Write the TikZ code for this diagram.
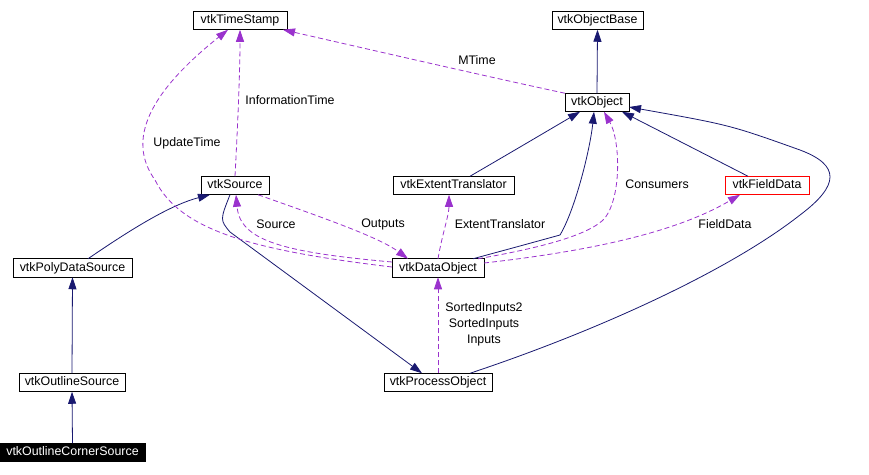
\documentclass[tikz,border=0pt]{standalone}
\usepackage{fontspec}
\setmainfont{Liberation Sans}
\usetikzlibrary{arrows.meta}
\definecolor{navy}{HTML}{191970}
\definecolor{orchid}{HTML}{9A32CD}
\begin{document}
\begin{tikzpicture}[x=1pt,y=-1pt, font=\fontsize{12.4}{14}\selectfont,
 cls/.style={draw, line width=0.8pt, inner sep=0pt, outer sep=0pt, minimum height=18.5pt, text height=9pt, text depth=2.5pt},
 inh/.style={navy, line width=0.8pt, -{Triangle[length=12pt,width=8pt]}},
 use/.style={orchid, line width=0.8pt, dash pattern=on 5pt off 3pt, -{Triangle[length=12pt,width=8pt]}},
 lbl/.style={inner sep=0pt, text=black}]
\useasboundingbox (0,0) rectangle (869,474);
% classes
\node[cls, minimum width=94pt]  (ts)   at (240,20.5)  {vtkTimeStamp};
\node[cls, minimum width=91pt]  (ob)   at (597.5,20.5) {vtkObjectBase};
\node[cls, minimum width=64pt]  (obj)  at (597,102.5) {vtkObject};
\node[cls, minimum width=68pt]  (src)  at (235,185.5) {vtkSource};
\node[cls, minimum width=121pt] (et)   at (453.5,185.5) {vtkExtentTranslator};
\node[cls, minimum width=84pt, draw=red] (fd) at (767,185.5) {vtkFieldData};
\node[cls, minimum width=119pt] (pds)  at (72.5,268) {vtkPolyDataSource};
\node[cls, minimum width=92pt]  (dobj) at (438,268) {vtkDataObject};
\node[cls, minimum width=106pt] (os)   at (72,382.5) {vtkOutlineSource};
\node[cls, minimum width=108pt] (po)   at (438,382.5) {vtkProcessObject};
\node[cls, minimum width=145pt, fill=black, text=white] (ocs) at (72.5,452.3) {vtkOutlineCornerSource};
% inheritance
\draw[inh] (obj.north) -- (ob.south);
\draw[inh] ([xshift=16.5pt]et.north) .. controls (515,150) .. ([xshift=-17pt]obj.south);
\draw[inh] ([xshift=-19pt]fd.north) -- ([xshift=25pt]obj.south);
\draw[inh] ([xshift=35pt]dobj.north) .. controls (520,246) .. (560,235)
   .. controls (575,210) and (590,150) .. ([xshift=-3pt]obj.south);
\draw[inh] ([xshift=32pt]po.north) .. controls (600,330) and (730,270) .. (800,215)
   .. controls (840,185) and (840,165) .. (800,150)
   .. controls (730,125) .. ([yshift=-4.5pt]obj.east);
\draw[inh] ([xshift=15.5pt]pds.north) .. controls (130,230) and (170,205) .. ([xshift=-25pt]src.south);
\draw[inh] ([xshift=-5pt]src.south) .. controls (220,220) .. (230,232) -- ([xshift=-16pt]po.north);
\draw[inh] (os.north) -- (pds.south);
\draw[inh] (ocs.north) -- (os.south);
% usage
\draw[use] ([xshift=40pt]dobj.north) .. controls (540,248) and (590,235) .. (605,218)
   .. controls (622,195) and (620,140) .. ([xshift=7pt]obj.south);
\draw[use] ([yshift=5pt]dobj.east) .. controls (600,250) and (680,230) .. ([xshift=-27pt]fd.south);
\draw[use] (dobj.north) .. controls (442,235) and (449,215) .. ([xshift=-4.5pt]et.south);
\draw[use] ([xshift=23pt]src.south) .. controls (330,220) and (380,238) .. ([xshift=-30pt]dobj.north);
\draw[use] ([yshift=6pt]dobj.west) .. controls (280,252) and (240,240) .. ([xshift=1pt]src.south);
\draw[use] ([yshift=1pt]dobj.west) .. controls (250,250) and (180,230) .. (155,180)
   .. controls (130,145) and (140,100) .. ([xshift=-12pt]ts.south);
\draw[use] (src.north) .. controls (238,120) and (240,70) .. (ts.south);
\draw[use] (obj.north west) .. controls (480,75) and (350,45) .. ([xshift=-4pt]ts.south east);
\draw[use] (po.north) -- (dobj.south);
% labels
\node[lbl] (lmt)  at (477,60)  {MTime};
\node[lbl] (lit)  at (290,100) {InformationTime};
\node[lbl] (lut)  at (187,143) {UpdateTime};
\node[lbl] (lsrc) at (276,224) {Source};
\node[lbl] (lout) at (383,224) {Outputs};
\node[lbl] (let)  at (500,224) {ExtentTranslator};
\node[lbl] (lcon) at (657,184) {Consumers};
\node[lbl] (lfd)  at (725,224) {FieldData};
\node[lbl, align=center, font=\fontsize{12.4}{16}\selectfont] (lin) at (484,324) {SortedInputs2\\SortedInputs\\Inputs};
\end{tikzpicture}
\end{document}
